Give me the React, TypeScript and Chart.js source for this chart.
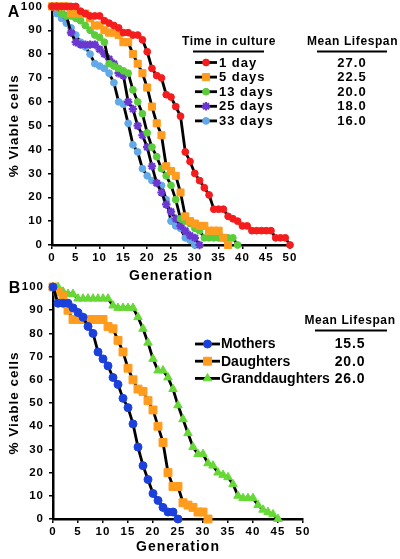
import React, { useEffect, useRef } from 'react';
import { Chart, registerables } from 'chart.js';
import { drawPoint } from 'chart.js/helpers';

Chart.register(...registerables);

const FONT = '"Liberation Sans", Arial, Helvetica, sans-serif';

// ---------- shared axis data ----------
const generations = [
  0, 1, 2, 3, 4, 5, 6, 7, 8, 9, 10, 11, 12, 13, 14, 15, 16, 17, 18, 19, 20,
  21, 22, 23, 24, 25, 26, 27, 28, 29, 30, 31, 32, 33, 34, 35, 36, 37, 38, 39,
  40, 41, 42, 43, 44, 45, 46, 47, 48, 49, 50,
];
const xMin = 0;
const xMax = 50;
const xStep = 5;
const yMin = 0;
const yMax = 100;
const yStep = 10;
const xTitle = 'Generation';
const yTitle = '% Viable cells';

// ---------- panel A: time in culture ----------
const cultureHeader = 'Time in culture';
const meanHeader = 'Mean Lifespan';
const cultureLabels = ['1 day', '5 days', '13 days', '25 days', '33 days'];
const cultureMeans = ['27.0', '22.5', '20.0', '18.0', '16.0'];

const day1 = [100, 100, 100, 100, 100, 100, 98, 97, 96, 96, 96, 94, 93, 92, 91, 89, 89, 88, 88, 86, 81, 74, 71, 70, 63, 62, 58, 54, 39, 35, 30, 27, 24, 21, 15, 15, 15, 12, 11, 10, 8, 8, 6, 6, 6, 6, 6, 3, 3, 3, 0];
const day5 = [100, 100, 100, 100, 97, 97, 97, 97, 95, 92, 92, 90, 89, 89, 88, 85, 85, 80, 76, 72, 66, 58, 51, 46, 33, 31, 29, 22, 12, 10, 9, 8, 8, 6, 6, 6, 3, 0];
const day13 = [100, 100, 97, 96, 96, 95, 94, 92, 90, 88, 87, 85, 76, 75, 74, 73, 72, 65, 60, 55, 47, 41, 37, 32, 29, 25, 19, 11, 10, 9, 7, 6, 3, 3, 3, 3, 3, 3, 3, 0];
const day25 = [100, 100, 99, 96, 89, 85, 84, 84, 84, 84, 82, 80, 78, 76, 72, 71, 60, 57, 50, 46, 41, 33, 26, 22, 17, 14, 11, 8, 6, 4, 3, 0];
const day33 = [100, 97, 95, 93, 91, 88, 85, 83, 80, 76, 75, 74, 72, 68, 60, 59, 51, 42, 39, 32, 29, 27, 26, 25, 19, 10, 8, 7, 3, 2, 0];

// ---------- panel B: lineage ----------
const lineageLabels = ['Mothers', 'Daughters', 'Granddaughters'];
const lineageMeans = ['15.5', '20.0', '26.0'];

const mothers = [100, 93, 93, 93, 91, 89, 87, 83, 80, 72, 69, 66, 61, 58, 52, 48, 41, 31, 23, 17, 11, 8, 5, 3, 3, 0];
const daughters = [100, 98, 96, 90, 86, 86, 86, 86, 86, 86, 86, 83, 82, 77, 72, 65, 60, 56, 55, 51, 47, 40, 33, 20, 14, 14, 7, 6, 5, 3, 3, 0];
const granddaughters = [100, 100, 98, 97, 97, 95, 95, 95, 95, 95, 95, 95, 92, 91, 91, 91, 91, 87, 82, 76, 69, 64, 64, 61, 56, 49, 43, 37, 31, 28, 28, 24, 23, 20, 19, 18, 15, 10, 9, 9, 9, 6, 4, 3, 2, 0];

// ---------- styles ----------
type MarkStyle = { color: string; pointStyle: string; radius: number; borderWidth: number };

const stylesA: MarkStyle[] = [
  { color: '#f41c1c', pointStyle: 'circle', radius: 3.4, borderWidth: 1 },
  { color: '#ff9c1e', pointStyle: 'rect', radius: 5, borderWidth: 1 },
  { color: '#5ccd3a', pointStyle: 'circle', radius: 3.4, borderWidth: 1 },
  { color: '#6a38d0', pointStyle: 'star', radius: 4.2, borderWidth: 2.2 },
  { color: '#62a9e8', pointStyle: 'circle', radius: 3.4, borderWidth: 1 },
];

const stylesB: MarkStyle[] = [
  { color: '#1b40dc', pointStyle: 'circle', radius: 4, borderWidth: 1 },
  { color: '#ff9c1e', pointStyle: 'rect', radius: 5.6, borderWidth: 1 },
  { color: '#66d936', pointStyle: 'triangle', radius: 4.9, borderWidth: 1 },
];

type Geom = {
  padTop: number;
  padRight: number;
  yWidth: number;
  xHeight: number;
  xTitlePadBottom: number;
  xTickPad: number;
};

const geomA: Geom = { padTop: 5, padRight: 110, yWidth: 52, xHeight: 40, xTitlePadBottom: 0, xTickPad: 2 };
const geomB: Geom = { padTop: 7, padRight: 97, yWidth: 53, xHeight: 40, xTitlePadBottom: 3.6, xTickPad: 1.5 };

function toPoints(values: number[]) {
  return values.map((v, i) => ({ x: generations[i], y: v }));
}

function marker(ctx: CanvasRenderingContext2D, s: MarkStyle, x: number, y: number) {
  ctx.save();
  ctx.fillStyle = s.color;
  ctx.strokeStyle = s.color;
  ctx.lineWidth = s.borderWidth;
  drawPoint(ctx, { pointStyle: s.pointStyle as any, radius: s.radius, rotation: 0, borderWidth: s.borderWidth }, x, y);
  ctx.restore();
}

function drawLegendA(ctx: CanvasRenderingContext2D) {
  const c = ctx as any;
  ctx.save();
  ctx.fillStyle = '#000';
  ctx.textBaseline = 'middle';
  ctx.textAlign = 'center';
  ctx.font = `bold 12px ${FONT}`;
  c.letterSpacing = '0.6px';
  ctx.fillText(cultureHeader, 229, 42);
  ctx.fillText(meanHeader, 352.5, 42);
  ctx.fillRect(193, 50.5, 71, 2);
  ctx.fillRect(317, 50.5, 70, 2);
  for (let i = 0; i < cultureLabels.length; i++) {
    const y = 62.5 + i * 14.6;
    ctx.fillStyle = '#000';
    ctx.fillRect(195, y - 1.4, 22, 2.8);
    marker(ctx, stylesA[i], 206, y);
    ctx.fillStyle = '#000';
    ctx.font = `bold 13px ${FONT}`;
    c.letterSpacing = '1px';
    ctx.textAlign = 'left';
    ctx.fillText(cultureLabels[i], 219, y + 0.5);
    ctx.textAlign = 'center';
    ctx.fillText(cultureMeans[i], 352, y + 0.5);
  }
  ctx.restore();
}

function drawLegendB(ctx: CanvasRenderingContext2D) {
  const c = ctx as any;
  ctx.save();
  ctx.fillStyle = '#000';
  ctx.textBaseline = 'middle';
  ctx.textAlign = 'center';
  ctx.font = `bold 12px ${FONT}`;
  c.letterSpacing = '0.6px';
  ctx.fillText(meanHeader, 350, 41);
  ctx.fillRect(315, 49.5, 72, 2);
  for (let i = 0; i < lineageLabels.length; i++) {
    const y = 64 + i * 17.2;
    ctx.fillStyle = '#000';
    ctx.fillRect(195, y - 1.4, 25, 2.8);
    marker(ctx, stylesB[i], 207.5, y);
    ctx.fillStyle = '#000';
    ctx.font = `bold 14px ${FONT}`;
    c.letterSpacing = '0px';
    ctx.textAlign = 'left';
    ctx.fillText(lineageLabels[i], 221, y + 0.5);
    c.letterSpacing = '0.8px';
    ctx.textAlign = 'center';
    ctx.fillText(lineageMeans[i], 350, y + 0.5);
  }
  ctx.restore();
}

function buildChart(
  canvas: HTMLCanvasElement,
  series: number[][],
  styles: MarkStyle[],
  geom: Geom,
  panelLetter: string,
  letterPos: [number, number],
  legend: (ctx: CanvasRenderingContext2D) => void,
) {
  const tickFont = { family: FONT, size: 11.5, weight: 'bold' as const, lineHeight: 1.2 };
  const datasets = series.map((vals, i) => ({
    data: toPoints(vals),
    borderColor: '#000',
    borderWidth: 2.8,
    tension: 0,
    fill: false,
    clip: false as any,
    pointStyle: styles[i].pointStyle as any,
    pointRadius: styles[i].radius,
    pointBackgroundColor: styles[i].color,
    pointBorderColor: styles[i].color,
    pointBorderWidth: styles[i].borderWidth,
  }));

  const decor = {
    id: 'decor',
    beforeDraw(chart: any) {
      chart.ctx.letterSpacing = '1px';
    },
    afterDraw(chart: any) {
      const ctx = chart.ctx as CanvasRenderingContext2D;
      ctx.save();
      (ctx as any).letterSpacing = '0px';
      ctx.fillStyle = '#000';
      ctx.font = `bold 16px ${FONT}`;
      ctx.textAlign = 'center';
      ctx.textBaseline = 'middle';
      ctx.fillText(panelLetter, letterPos[0], letterPos[1]);
      ctx.restore();
      legend(ctx);
    },
  };

  return new Chart(canvas, {
    type: 'line',
    data: { datasets },
    plugins: [decor],
    options: {
      responsive: false,
      animation: false,
      devicePixelRatio: 1,
      layout: { padding: { left: 0, right: geom.padRight, top: geom.padTop, bottom: 0 } },
      plugins: { legend: { display: false }, tooltip: { enabled: false } },
      scales: {
        x: {
          type: 'linear',
          min: xMin,
          max: xMax,
          ticks: {
            stepSize: xStep,
            color: '#000',
            font: tickFont,
            padding: geom.xTickPad,
            maxRotation: 0,
            autoSkip: false,
          },
          grid: { display: true, drawOnChartArea: false, drawTicks: true, tickLength: 4, color: '#000', lineWidth: 1.5 },
          border: { display: true, color: '#000', width: 2.5 },
          title: {
            display: true,
            text: xTitle,
            color: '#000',
            font: { family: FONT, size: 14, weight: 'bold', lineHeight: 1.2 },
            padding: { top: 0, bottom: geom.xTitlePadBottom },
          },
          afterFit: (s: any) => {
            s.height = geom.xHeight;
            s.paddingLeft = 0;
            s.paddingRight = 0;
          },
        },
        y: {
          type: 'linear',
          min: yMin,
          max: yMax,
          ticks: { stepSize: yStep, color: '#000', font: tickFont, padding: 5 },
          grid: { display: true, drawOnChartArea: false, drawTicks: true, tickLength: 4, color: '#000', lineWidth: 1.5 },
          border: { display: true, color: '#000', width: 2.5 },
          title: {
            display: true,
            text: yTitle,
            color: '#000',
            font: { family: FONT, size: 13.5, weight: 'bold', lineHeight: 1.2 },
            padding: { top: 6.5, bottom: 0 },
          },
          afterFit: (s: any) => {
            s.width = geom.yWidth;
            s.paddingTop = 0;
            s.paddingBottom = 0;
          },
        },
      },
    } as any,
  });
}

export default function App() {
  const refA = useRef<HTMLCanvasElement>(null);
  const refB = useRef<HTMLCanvasElement>(null);

  useEffect(() => {
    if (!refA.current || !refB.current) return;
    const a = buildChart(refA.current, [day1, day5, day13, day25, day33], stylesA, geomA, 'A', [13.5, 12.5], drawLegendA);
    const b = buildChart(refB.current, [mothers, daughters, granddaughters], stylesB, geomB, 'B', [14.5, 9], drawLegendB);
    return () => {
      a.destroy();
      b.destroy();
    };
  }, []);

  return (
    <div style={{ position: 'fixed', left: 0, top: 0, width: 400, height: 559, background: '#fff', overflow: 'hidden' }}>
      <canvas ref={refA} width={400} height={285} style={{ position: 'absolute', left: 0, top: 0, width: 400, height: 285 }} />
      <canvas ref={refB} width={400} height={279} style={{ position: 'absolute', left: 0, top: 280, width: 400, height: 279 }} />
    </div>
  );
}
